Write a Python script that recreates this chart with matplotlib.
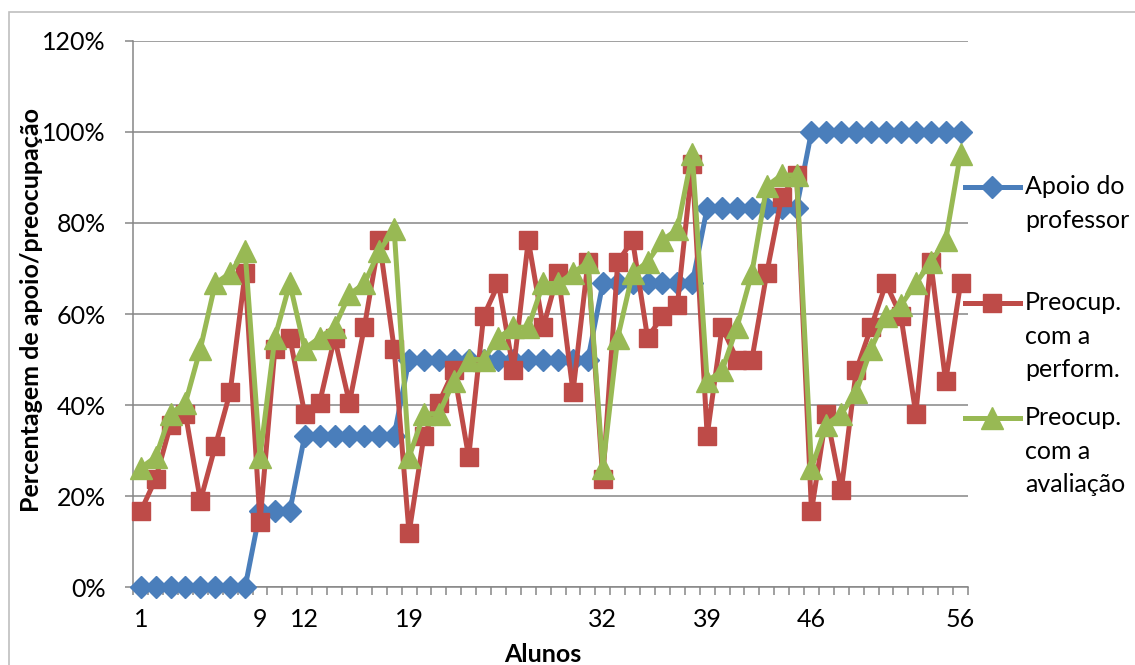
import matplotlib
matplotlib.use("Agg")
import matplotlib.pyplot as plt
from matplotlib.lines import Line2D
from matplotlib.patches import Rectangle
from matplotlib.ticker import FixedLocator, FuncFormatter
import numpy as np

plt.rcParams['font.family'] = ['Lato', 'DejaVu Sans']

alunos = list(range(1, 57))
apoio = [0, 0, 0, 0, 0, 0, 0, 0, 16.7, 16.7, 16.7, 33.3, 33.3, 33.3, 33.3, 33.3,
         33.3, 33.3, 50, 50, 50, 50, 50, 50, 50, 50, 50, 50, 50, 50, 50, 66.7,
         66.7, 66.7, 66.7, 66.7, 66.7, 66.7, 83.3, 83.3, 83.3, 83.3, 83.3, 83.3,
         83.3, 100, 100, 100, 100, 100, 100, 100, 100, 100, 100, 100]
perform = [16.7, 23.8, 35.7, 38.1, 19.0, 31.0, 42.9, 69.0, 14.3, 52.4,
           54.8, 38.1, 40.5, 54.8, 40.5, 57.1, 76.2, 52.4, 11.9, 33.3,
           40.5, 47.6, 28.6, 59.5, 66.7, 47.6, 76.2, 57.1, 69.0, 42.9,
           71.4, 23.8, 71.4, 76.2, 54.8, 59.5, 61.9, 92.9, 33.3, 57.1,
           50.0, 50.0, 69.0, 85.7, 90.5, 16.7, 38.1, 21.4, 47.6, 57.1,
           66.7, 59.5, 38.1, 71.4, 45.2, 66.7]
avaliacao = [26.2, 28.6, 38.1, 40.5, 52.4, 66.7, 69.0, 73.8, 28.6, 54.8,
             66.7, 52.4, 54.8, 57.1, 64.3, 66.7, 73.8, 78.6, 28.6, 38.1,
             38.1, 45.2, 50.0, 50.0, 54.8, 57.1, 57.1, 66.7, 66.7, 69.0,
             71.4, 26.2, 54.8, 69.0, 71.4, 76.2, 78.6, 95.2, 45.2, 47.6,
             57.1, 69.0, 88.1, 90.5, 90.5, 26.2, 35.7, 38.1, 42.9, 52.4,
             59.5, 61.9, 66.7, 71.4, 76.2, 95.2]
x_tick_labels = [1, 9, 12, 19, 32, 39, 46, 56]
y_ticks = [0, 20, 40, 60, 80, 100, 120]
series_names = ["Apoio do\nprofessor", "Preocup.\ncom a\nperform.", "Preocup.\ncom a\navaliação"]

BLUE = "#4A7EBB"
RED = "#BE4B48"
GREEN = "#98B954"
GRID = "#868686"

W, H = 1135, 665
fig = plt.figure(figsize=(W / 100, H / 100), dpi=100)
ax = fig.add_axes([133.3 / W, 1 - 587.3 / H, (968 - 133.3) / W, (587.3 - 40.7) / H])

# outer chart border
fig.patches.append(Rectangle((9 / W, -0.1), 1.2, 1 - 11.7 / H + 0.1, transform=fig.transFigure,
                             fill=False, edgecolor="#BFBFBF", linewidth=1.2))

lw = 3.6
ax.plot(alunos, apoio, color=BLUE, lw=lw, marker="D", ms=11.5, mec=BLUE, mfc=BLUE,
        clip_on=False, zorder=3, solid_joinstyle="round")
ax.plot(alunos, perform, color=RED, lw=lw, marker="s", ms=13.5, mec=RED, mfc=RED,
        clip_on=False, zorder=4, solid_joinstyle="round")
ax.plot(alunos, avaliacao, color=GREEN, lw=lw, marker="^", ms=15.5, mec=GREEN, mfc=GREEN,
        clip_on=False, zorder=5, solid_joinstyle="round")

ax.set_xlim(0.5, 56.5)
ax.set_ylim(0, 120)
ax.set_yticks(y_ticks)
ax.yaxis.set_major_formatter(FuncFormatter(lambda v, p: f"{int(v)}%"))
ax.grid(axis="y", color=GRID, lw=1.1, zorder=0)
ax.set_axisbelow(True)

ax.xaxis.set_major_locator(FixedLocator(x_tick_labels))
ax.set_xticklabels([str(v) for v in x_tick_labels])
ax.xaxis.set_minor_locator(FixedLocator(np.arange(0.5, 57, 1)))
ax.tick_params(axis="x", which="major", length=0, pad=15, labelsize=18)
ax.tick_params(axis="x", which="minor", length=5.5, width=1.1, color=GRID, direction="out")
ax.tick_params(axis="y", which="major", length=6, width=1.1, color=GRID, pad=14, labelsize=18)

for s in ["top", "right"]:
    ax.spines[s].set_visible(False)
for s in ["left", "bottom"]:
    ax.spines[s].set_color(GRID)
    ax.spines[s].set_linewidth(1.1)

fig.text(543 / W, 1 - 654 / H, "Alunos", ha="center", va="center", fontsize=18, fontweight="bold")
fig.text(32 / W, 1 - 310 / H, "Percentagem de apoio/preocupação", ha="center", va="center",
         rotation=90, fontsize=18, fontweight="bold")

# legend (manual, first text line aligned with handle)
colors = [BLUE, RED, GREEN]
markers = ["D", "s", "^"]
sizes = [11.5, 13.5, 15.5]
legend_y = [187, 303, 418]
for name, c, m, msz, ly in zip(series_names, colors, markers, sizes, legend_y):
    yf = 1 - ly / H
    fig.add_artist(Line2D([965 / W, 1020 / W], [yf, yf], transform=fig.transFigure,
                          color=c, lw=lw, marker=None))
    fig.add_artist(Line2D([992 / W], [yf], transform=fig.transFigure, color=c,
                          marker=m, ms=msz, mfc=c, mec=c, lw=0))
    fig.text(1025 / W, 1 - (ly - 12) / H, name, ha="left", va="top", fontsize=18,
             linespacing=1.56)

fig.savefig("out.png", dpi=100)
